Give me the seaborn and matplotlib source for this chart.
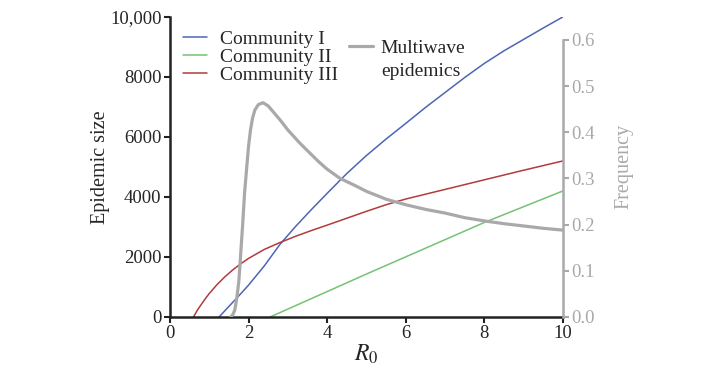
import numpy as np
import pandas as pd
import seaborn as sns
import matplotlib.pyplot as plt
from matplotlib.lines import Line2D
from matplotlib.ticker import FuncFormatter

# values
r0_c1 = [1.25, 1.5, 1.75, 2.0, 2.4, 2.8, 3.2, 3.6, 4.0, 4.5, 5.0, 5.5, 6.0, 6.5,
         7.0, 7.5, 8.0, 8.5, 9.0, 9.5, 10.0]
size_c1 = [0, 350, 700, 1060, 1700, 2420, 3020, 3580, 4120, 4780, 5380, 5930, 6450,
           6980, 7480, 7980, 8450, 8870, 9250, 9630, 10000]

r0_c2 = [2.55, 5.0, 8.0, 10.0]
size_c2 = [0, 1430, 3150, 4200]

r0_c3 = [0.6, 0.7, 0.8, 0.9, 1.0, 1.2, 1.4, 1.6, 1.8, 2.0, 2.4, 2.8, 3.2, 3.6,
         4.0, 4.5, 5.0, 5.5, 6.0, 7.0, 8.0, 9.0, 10.0]
size_c3 = [0, 230, 420, 610, 780, 1080, 1340, 1570, 1770, 1950, 2250, 2480, 2690,
           2880, 3060, 3290, 3520, 3740, 3930, 4250, 4570, 4890, 5200]

r0_mw = [1.55, 1.6, 1.65, 1.7, 1.75, 1.78, 1.85, 1.9, 1.95, 2.0, 2.05, 2.1, 2.16,
         2.25, 2.37, 2.5, 2.6, 2.8, 3.0, 3.3, 3.5, 3.8, 4.0, 4.33, 4.7, 5.0, 5.5,
         6.0, 6.5, 7.0, 7.5, 8.0, 8.5, 9.0, 9.5, 10.0]
freq_mw = [0, 0.005, 0.015, 0.04, 0.075, 0.11, 0.2, 0.27, 0.32, 0.37, 0.405, 0.43,
           0.448, 0.46, 0.464, 0.457, 0.447, 0.427, 0.405, 0.377, 0.36, 0.335, 0.32,
           0.30, 0.285, 0.272, 0.255, 0.243, 0.233, 0.225, 0.215, 0.208, 0.202,
           0.197, 0.192, 0.188]

c_blue = "#4c66b5"
c_green = "#74c274"
c_red = "#b23b3b"
c_gray = "#a9a9a9"

sns.set_style("ticks")
plt.rcParams['font.family'] = ['Liberation Serif', 'DejaVu Serif']
plt.rcParams['mathtext.fontset'] = 'stix'

fig = plt.figure(figsize=(7.2, 3.66), dpi=100)
ax = fig.add_axes([0.236, 0.134, 0.546, 0.82])

sns.lineplot(x=r0_c1, y=size_c1, ax=ax, color=c_blue, lw=1.1)
sns.lineplot(x=r0_c2, y=size_c2, ax=ax, color=c_green, lw=1.1)
sns.lineplot(x=r0_c3, y=size_c3, ax=ax, color=c_red, lw=1.1)

ax.set_xlim(0, 10)
ax.set_ylim(0, 10000)
ax.set_xticks(range(0, 11, 2))
ax.set_yticks(range(0, 10001, 2000))
ax.yaxis.set_major_formatter(FuncFormatter(lambda v, p: "10,000" if v == 10000 else f"{int(v)}"))
ax.tick_params(labelsize=13.5, width=1.5, length=4, color="#222222", pad=2)
for s in ["left", "bottom"]:
    ax.spines[s].set_linewidth(1.8)
    ax.spines[s].set_color("#222222")
ax.spines["top"].set_visible(False)
ax.spines["right"].set_visible(False)
ax.set_xlabel("$R_0$", fontsize=17, labelpad=0)
ax.set_ylabel("Epidemic size", fontsize=14.5, labelpad=0)

ax2 = ax.twinx()
sns.lineplot(x=r0_mw, y=freq_mw, ax=ax2, color=c_gray, lw=2.3)
ax2.set_ylim(0, 0.65)
ax2.set_yticks([0, 0.1, 0.2, 0.3, 0.4, 0.5, 0.6])
ax2.yaxis.set_major_formatter(FuncFormatter(lambda v, p: f"{v:.1f}"))
ax2.spines["right"].set_bounds(0, 0.6)
ax2.spines["right"].set_color(c_gray)
ax2.spines["right"].set_linewidth(1.8)
for s in ["top", "left", "bottom"]:
    ax2.spines[s].set_visible(False)
ax2.tick_params(axis="y", labelsize=13.5, colors=c_gray, width=1.5, length=4, pad=2)
ax2.set_ylabel("Frequency", fontsize=14.5, color=c_gray, labelpad=14)

h1 = [Line2D([], [], color=c, lw=1.1) for c in (c_blue, c_green, c_red)]
leg1 = ax2.legend(h1, ["Community I", "Community II", "Community III"],
                  loc="upper left", bbox_to_anchor=(0.033, 0.955), frameon=False,
                  fontsize=14, handlelength=1.25, handletextpad=0.65,
                  labelspacing=0.02, borderaxespad=0, borderpad=0)
ax2.add_artist(leg1)
h2 = [Line2D([], [], color=c_gray, lw=2.3), Line2D([], [], color="none")]
ax2.legend(h2, ["Multiwave", "epidemics"], loc="upper left",
           bbox_to_anchor=(0.455, 0.925), frameon=False, fontsize=14,
           handlelength=1.25, handletextpad=0.4, labelspacing=0.3,
           borderaxespad=0, borderpad=0)

fig.savefig("out.png", dpi=100)
